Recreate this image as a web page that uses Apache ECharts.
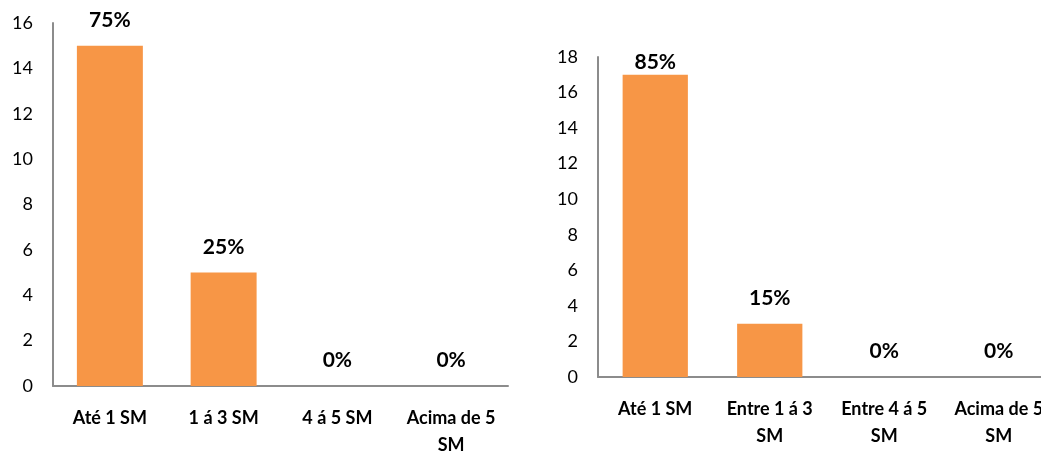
<!DOCTYPE html>
<html>
<head>
<meta charset="utf-8">
<script src="https://cdn.jsdelivr.net/npm/echarts@6/dist/echarts.min.js"></script>
<style>
  html, body { margin: 0; padding: 0; background: #fff; }
  #chart { width: 1041px; height: 451px; }
</style>
</head>
<body>
<div id="chart"></div>
<script>
// dados
var categoriasEsq = ["Até 1 SM", "1 á 3 SM", "4 á 5 SM", "Acima de 5\nSM"];
var valoresEsq = [15, 5, 0, 0];
var categoriasDir = ["Até 1 SM", "Entre 1 á 3\nSM", "Entre 4 á 5\nSM", "Acima de 5\nSM"];
var valoresDir = [17, 3, 0, 0];

var laranja = "#F79646";
var fonte = "Lato, 'Open Sans', sans-serif";

var myChart = echarts.init(document.getElementById("chart"));

function percentual(valores) {
    var total = valores.reduce(function (a, b) { return a + b; }, 0);
    return function (p) {
        return Math.round(p.value / total * 100) + "%";
    };
}

function eixoX(idx, cats) {
    return {
        type: "category",
        gridIndex: idx,
        data: cats,
        axisTick: { show: false },
        axisLine: { lineStyle: { color: "#8c8c8c", width: 2 } },
        axisLabel: {
            interval: 0,
            margin: 19,
            fontFamily: fonte,
            fontSize: 18,
            fontWeight: "bold",
            color: "#000",
            lineHeight: 27
        }
    };
}

function eixoY(idx, max) {
    return {
        type: "value",
        gridIndex: idx,
        min: 0,
        max: max,
        interval: 2,
        splitLine: { show: false },
        axisTick: { show: false },
        axisLine: { show: true, lineStyle: { color: "#8c8c8c", width: 2 } },
        axisLabel: {
            margin: 20,
            fontFamily: fonte,
            fontSize: 18,
            color: "#000"
        }
    };
}

function rotulo(distancia) {
    return {
        show: true,
        position: "top",
        distance: distancia,
        fontFamily: fonte,
        fontSize: 21,
        fontWeight: "bold",
        color: "#000",
        formatter: null
    };
}

var labelEsq = rotulo(15);
labelEsq.formatter = percentual(valoresEsq);
var labelDir = rotulo(15);
labelDir.formatter = percentual(valoresDir);

// a primeira barra da direita tem o rótulo mais perto (limite do gráfico)
var dadosDir = valoresDir.map(function (v, i) {
    if (i === 0) {
        return { value: v, label: { distance: 2 } };
    }
    return v;
});

var option = {
    animation: false,
    grid: [
        { left: 53, top: 23, width: 455, height: 363, outerBoundsMode: "none" },
        { left: 598, top: 57, width: 458, height: 320, outerBoundsMode: "none" }
    ],
    xAxis: [eixoX(0, categoriasEsq), eixoX(1, categoriasDir)],
    yAxis: [eixoY(0, 16), eixoY(1, 18)],
    series: [
        {
            type: "bar",
            xAxisIndex: 0,
            yAxisIndex: 0,
            data: valoresEsq,
            barWidth: "58%",
            itemStyle: { color: laranja },
            label: labelEsq
        },
        {
            type: "bar",
            xAxisIndex: 1,
            yAxisIndex: 1,
            data: dadosDir,
            barWidth: "57%",
            itemStyle: { color: laranja },
            label: labelDir
        }
    ]
};

myChart.setOption(option, true);
</script>
</body>
</html>
